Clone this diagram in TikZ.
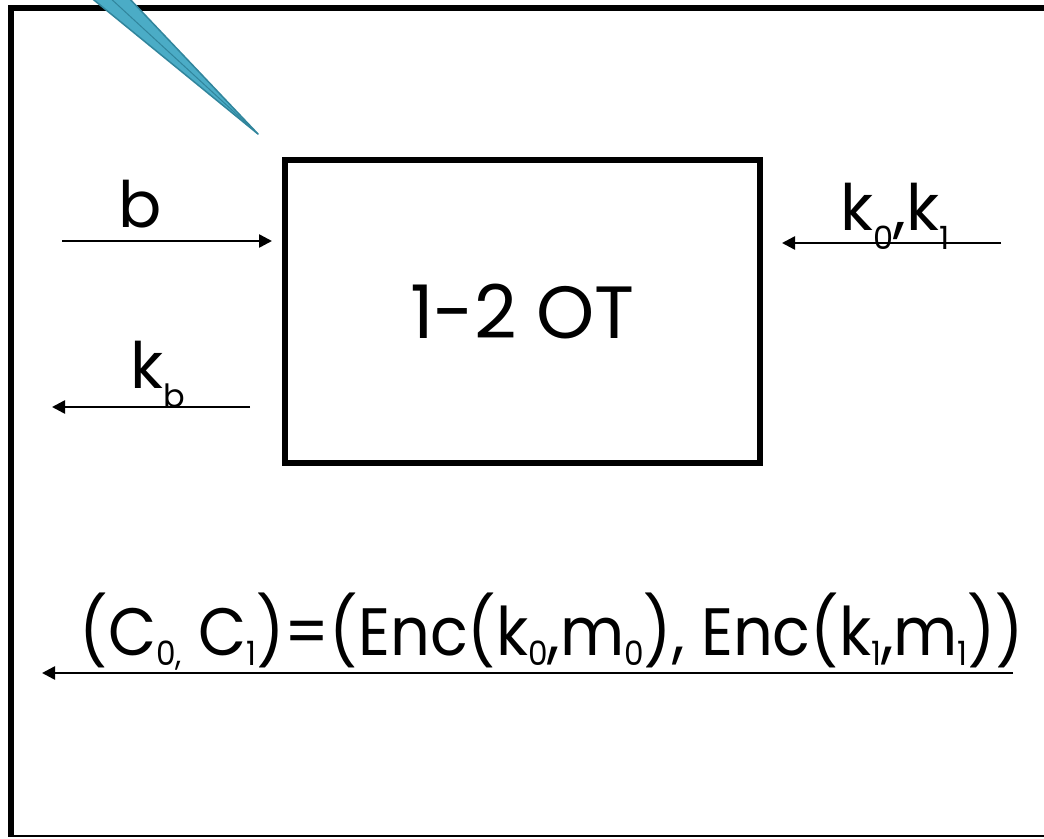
\documentclass[tikz,border=0pt]{standalone}
\usepackage{fontspec}
\setmainfont{Poppins}
\usetikzlibrary{arrows.meta,positioning}
\definecolor{callout}{HTML}{4BACC6}
\definecolor{calloutdark}{HTML}{31859C}
\newcommand{\lo}[2][-0.3em]{\raisebox{#1}{\scalebox{0.5}{#2}}}

\begin{document}
\begin{tikzpicture}[x=1pt, y=-1pt,
  flow/.style={-{Triangle[length=13pt, width=13pt]}, line width=2.5pt},
  tag/.style={inner sep=0pt, anchor=base, font=\fontsize{64}{64}\selectfont},
  otbox/.style={draw, line width=6pt, minimum width=475pt, minimum height=303pt,
    font=\fontsize{74}{74}\selectfont}
]
\useasboundingbox (0,0) rectangle (1044,838);

% frame, open on the right
\draw[line width=6pt] (1050,8) -- (11,8) -- (11,836);
\draw[line width=1.5pt] (8,836) -- (1050,836);

% callout tail
\fill[callout, draw=calloutdark, line width=1.5pt, line join=round]
  (89,-4) -- (127,-4) -- (258,134) -- cycle;
\draw[calloutdark, line width=1pt] (108,-4) -- (258,134);

\node[otbox] (ot) at (522.5,311.5) {1-2 OT};

% inputs and outputs
\coordinate (bin) at (62,241);
\coordinate (bout) at (272,241);
\coordinate (kbin) at (250,407);
\coordinate (kbout) at (52,407);
\coordinate (keysin) at (1001,243);
\coordinate (keysout) at (782,243);
\coordinate (encin) at (1013,673);
\coordinate (encout) at (42,673);

\draw[flow] (bin) -- (bout);
\draw[flow] (kbin) -- (kbout);
\draw[flow] (keysin) -- (keysout);
\draw[flow] (encin) -- (encout);

\node[tag] (b) at (140,227) {b};
\node[tag] (kb) at (158,388) {k\lo{b}};
\node[tag] (keys) at (895,230) {k\lo{0},k\lo{1}};
\node[tag, font=\fontsize{67}{67}\selectfont] (enc) at (552,655)
  {\scalebox{0.93}[1]{(C\lo[-0.15em]{0,} C\lo[-0.15em]{1})=(Enc(k\lo[-0.15em]{0},m\lo[-0.15em]{0}), Enc(k\lo[-0.15em]{1},m\lo[-0.15em]{1}))}};

\end{tikzpicture}
\end{document}
